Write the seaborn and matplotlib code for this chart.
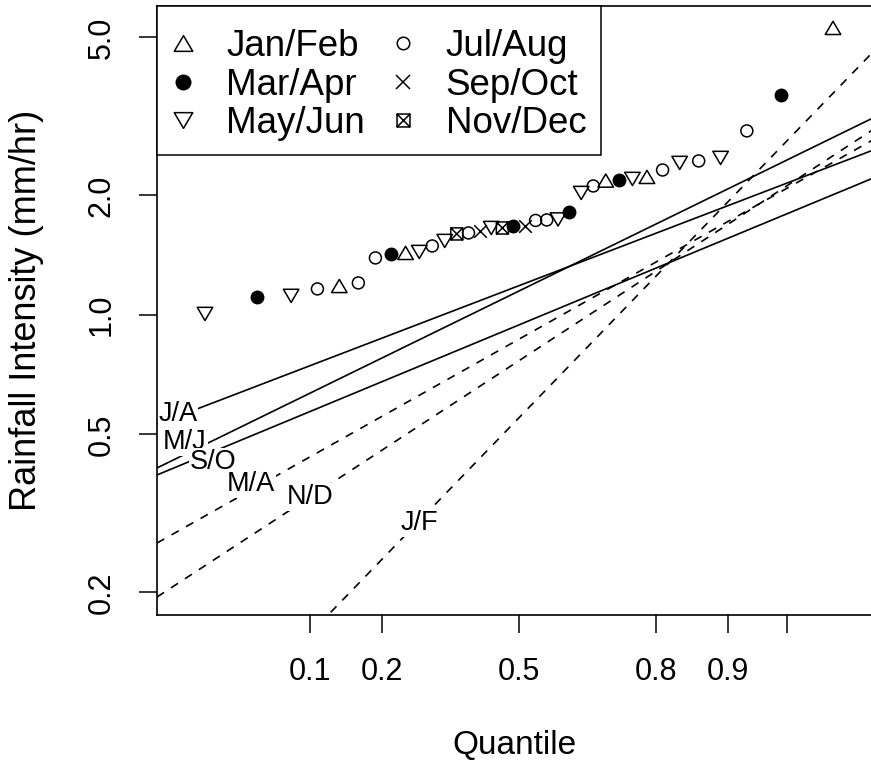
import numpy as np
import pandas as pd
import matplotlib
matplotlib.use("Agg")
import matplotlib.pyplot as plt
from matplotlib.path import Path
from matplotlib.patches import Rectangle
from matplotlib.lines import Line2D
import seaborn as sns
from statistics import NormalDist

# ---------------- data ----------------
groups = ["Jan/Feb", "Mar/Apr", "May/Jun", "Jul/Aug", "Sep/Oct", "Nov/Dec"]

# sorted rainfall intensities (mm/hr) and the season of each ranked value
point_season = ["May/Jun", "Mar/Apr", "May/Jun", "Jul/Aug", "Jan/Feb", "Jul/Aug",
                "Jul/Aug", "Mar/Apr", "Jan/Feb", "May/Jun", "Jul/Aug", "May/Jun",
                "Nov/Dec", "Jul/Aug", "Sep/Oct", "May/Jun", "Nov/Dec", "Mar/Apr",
                "Sep/Oct", "Jul/Aug", "Jul/Aug", "May/Jun", "Mar/Apr", "May/Jun",
                "Jul/Aug", "Jan/Feb", "Mar/Apr", "May/Jun", "Jan/Feb", "Jul/Aug",
                "May/Jun", "Jul/Aug", "May/Jun", "Jul/Aug", "Mar/Apr", "Jan/Feb"]
point_value = [1.006, 1.110, 1.117, 1.163, 1.183, 1.204,
               1.392, 1.424, 1.433, 1.441, 1.492, 1.536,
               1.600, 1.609, 1.628, 1.656, 1.656, 1.676,
               1.678, 1.730, 1.735, 1.740, 1.817, 2.029,
               2.113, 2.180, 2.190, 2.201, 2.227, 2.318,
               2.415, 2.443, 2.486, 2.908, 3.583, 5.284]

# fitted seasonal lines: median (mm/hr) and log10-slope per normal SD
line_label = ["J/A", "M/J", "S/O", "M/A", "N/D", "J/F"]
line_median = [1.185, 1.149, 0.944, 0.869, 0.767, 0.551]
line_slope = [0.1572, 0.2007, 0.1702, 0.2312, 0.2680, 0.4242]
line_dashed = [False, False, False, True, True, True]
label_q = [0.0182, 0.0202, 0.0303, 0.0501, 0.100, 0.270]
label_value = [0.563, 0.479, 0.426, 0.375, 0.348, 0.299]

x_ticks = [0.1, 0.2, 0.5, 0.8, 0.9, 0.95]
x_ticklabels = ["0.1", "0.2", "0.5", "0.8", "0.9", ""]
y_ticks = [0.2, 0.5, 1.0, 2.0, 5.0]
y_ticklabels = ["0.2", "0.5", "1.0", "2.0", "5.0"]
xlim_q = (0.01318, 0.98483)
ylim_v = (0.1755, 6.0)

# ---------------- style ----------------
sns.set_theme(style="ticks", rc={"axes.edgecolor": "black", "xtick.color": "black",
                                 "ytick.color": "black", "axes.labelcolor": "black",
                                 "text.color": "black"})
plt.rcParams["font.family"] = ["Liberation Sans", "DejaVu Sans"]

nd = NormalDist()
_ppf = np.vectorize(nd.inv_cdf, otypes=[float])
_cdf = np.vectorize(nd.cdf, otypes=[float])


def fwd(p):
    p = np.clip(np.asarray(p, dtype=float), 1e-9, 1 - 1e-9)
    return _ppf(p) if p.size else p


def inv(z):
    z = np.asarray(z, dtype=float)
    return _cdf(z) if z.size else z


W, H = 871, 767
fig = plt.figure(figsize=(W / 100, H / 100), dpi=100)
ax = fig.add_axes([157 / W, (H - 615) / H, (872 - 157) / W, (615 - 6) / H])
ax.set_xscale("function", functions=(fwd, inv))
ax.set_yscale("log")

# ---------------- points ----------------
n = len(point_value)
df = pd.DataFrame({"season": point_season, "intensity": point_value,
                   "quantile": np.arange(1, n + 1) / (n + 1)})

C = Path.MOVETO, Path.LINETO, Path.CLOSEPOLY
th = 0.85
tri_up = Path([(0, th / 2), (0.5, -th / 2), (-0.5, -th / 2), (0, th / 2)],
              [C[0], C[1], C[1], C[2]])
tri_dn = Path([(0, -th / 2), (0.5, th / 2), (-0.5, th / 2), (0, -th / 2)],
              [C[0], C[1], C[1], C[2]])
sq_x = Path([(-1, -1), (1, -1), (1, 1), (-1, 1), (-1, -1), (-1, -1), (1, 1), (-1, 1), (1, -1)],
            [C[0], C[1], C[1], C[1], C[2], C[0], C[1], C[0], C[1]])

mstyle = {
    "Jan/Feb": dict(marker=tri_up, s=125, facecolor="none", edgecolor="black", linewidth=1.1),
    "Mar/Apr": dict(marker="o", s=100, facecolor="black", edgecolor="black", linewidth=0),
    "May/Jun": dict(marker=tri_dn, s=125, facecolor="none", edgecolor="black", linewidth=1.1),
    "Jul/Aug": dict(marker="o", s=74, facecolor="none", edgecolor="black", linewidth=1.1),
    "Sep/Oct": dict(marker="x", s=82, color="black", linewidth=1.1),
    "Nov/Dec": dict(marker=sq_x, s=76, facecolor="none", edgecolor="black", linewidth=1.1),
}
# legend key sizes (points)
leg_ms = {"Jan/Feb": 13.3, "Mar/Apr": 11.5, "May/Jun": 13.3,
          "Jul/Aug": 9.0, "Sep/Oct": 9.6, "Nov/Dec": 9.3}

handles = []
for g in groups:
    d = df[df["season"] == g]
    kw = dict(mstyle[g])
    if "color" not in kw:
        kw["color"] = "black"
    sns.scatterplot(data=d, x="quantile", y="intensity", ax=ax, legend=False,
                    label=g, zorder=3, **kw)
    fc = kw.get("facecolor", "black")
    handles.append(Line2D([], [], linestyle="none", marker=kw["marker"],
                          markersize=leg_ms[g], markerfacecolor=fc,
                          markeredgecolor="black",
                          markeredgewidth=kw["linewidth"] if kw["linewidth"] else 0))

# ---------------- fitted lines ----------------
z_lo, z_hi = fwd(xlim_q[0]), fwd(xlim_q[1])
for lab, med, b, dsh in zip(line_label, line_median, line_slope, line_dashed):
    zz = np.array([z_lo, z_hi])
    vv = med * 10 ** (b * zz)
    sns.lineplot(x=inv(zz), y=vv, ax=ax, color="black", linewidth=1.2,
                 linestyle=(0, (5, 5)) if dsh else "-", sort=False, zorder=2)

for lab, q, v in zip(line_label, label_q, label_value):
    ax.text(q, v, lab, fontsize=19.5, ha="center", va="center", zorder=4,
            bbox=dict(facecolor="white", edgecolor="none", pad=0.6))

# ---------------- axes ----------------
ax.set_xlim(*xlim_q)
ax.set_ylim(*ylim_v)
ax.set_xticks(x_ticks)
ax.set_xticklabels(x_ticklabels)
ax.set_yticks(y_ticks)
ax.set_yticklabels(y_ticklabels)
ax.xaxis.set_minor_locator(matplotlib.ticker.NullLocator())
ax.yaxis.set_minor_locator(matplotlib.ticker.NullLocator())
ax.tick_params(axis="both", direction="out", length=13, width=1.1, labelsize=22)
ax.tick_params(axis="x", pad=17)
ax.tick_params(axis="y", pad=16)
for t in ax.get_yticklabels():
    t.set_rotation(90)
    t.set_va("center")
for sp in ["left", "bottom", "top"]:
    ax.spines[sp].set_linewidth(1.2)
ax.spines["right"].set_visible(False)

ax.set_xlabel("Quantile", fontsize=24, va="center")
ax.xaxis.set_label_coords(0.5, (615 - 745) / 609)
ax.set_ylabel("Rainfall Intensity (mm/hr)", fontsize=26, va="center")
ax.yaxis.set_label_coords((27 - 157) / 715, 0.5)

# ---------------- legend ----------------
rect_y0 = (615 - 155) / 609
ax.add_patch(Rectangle((0, rect_y0), (601 - 157) / 715, 1 - rect_y0, transform=ax.transAxes,
                       facecolor="white", edgecolor="black", linewidth=1.1, zorder=4,
                       clip_on=False))
F = 26.5
Fpx = F * 100 / 72
leg = ax.legend(handles=handles, labels=groups, ncol=2, loc="upper left",
                bbox_to_anchor=((149 - 157) / 715, (615 - 15.7) / 609),
                borderaxespad=0, frameon=False, fontsize=F,
                handlelength=40.8 / Fpx, handletextpad=22.6 / Fpx,
                columnspacing=17.6 / Fpx, labelspacing=0.095,
                borderpad=13.6 / Fpx)
leg.set_zorder(5)

fig.savefig("out.png", dpi=100)
